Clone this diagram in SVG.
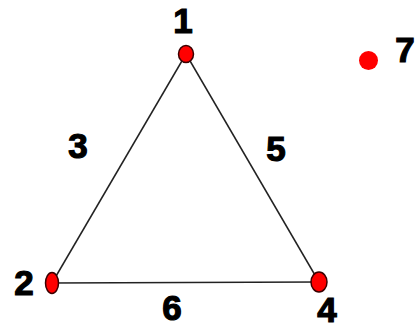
<svg xmlns="http://www.w3.org/2000/svg" width="417" height="330" viewBox="0 0 417 330">
<style>
.lbl{font-family:"Liberation Sans",Arial,sans-serif;font-weight:bold;font-size:35px;fill:#000;stroke:#000;stroke-width:1.2;text-anchor:middle}
.node{fill:#ff0000;stroke:#3a0000;stroke-width:1.5}
.edge{stroke:#222;stroke-width:1.5;fill:none}
</style>
<rect width="417" height="330" fill="#fff"/>
<g id="connectors">
<line class="edge" x1="186" y1="54" x2="52" y2="283"/>
<line class="edge" x1="186" y1="54" x2="319" y2="282"/>
<line class="edge" x1="52" y1="283" x2="319" y2="282"/>
</g>
<g id="node1"><ellipse class="node" cx="186" cy="54" rx="7.5" ry="8.5"/><text class="lbl" x="183" y="33">1</text></g>
<g id="node2"><ellipse class="node" cx="52" cy="283" rx="6.5" ry="10.5"/><text class="lbl" x="24" y="295">2</text></g>
<g id="node4"><ellipse class="node" cx="319" cy="282" rx="8" ry="10"/><text class="lbl" x="327" y="322">4</text></g>
<g id="node7"><circle cx="368.5" cy="60.5" r="9.5" fill="#ff0000"/><text class="lbl" x="405" y="62">7</text></g>
<g id="edgelabels">
<text class="lbl" x="78" y="158">3</text>
<text class="lbl" x="276" y="161">5</text>
<text class="lbl" x="172" y="320">6</text>
</g>
</svg>
